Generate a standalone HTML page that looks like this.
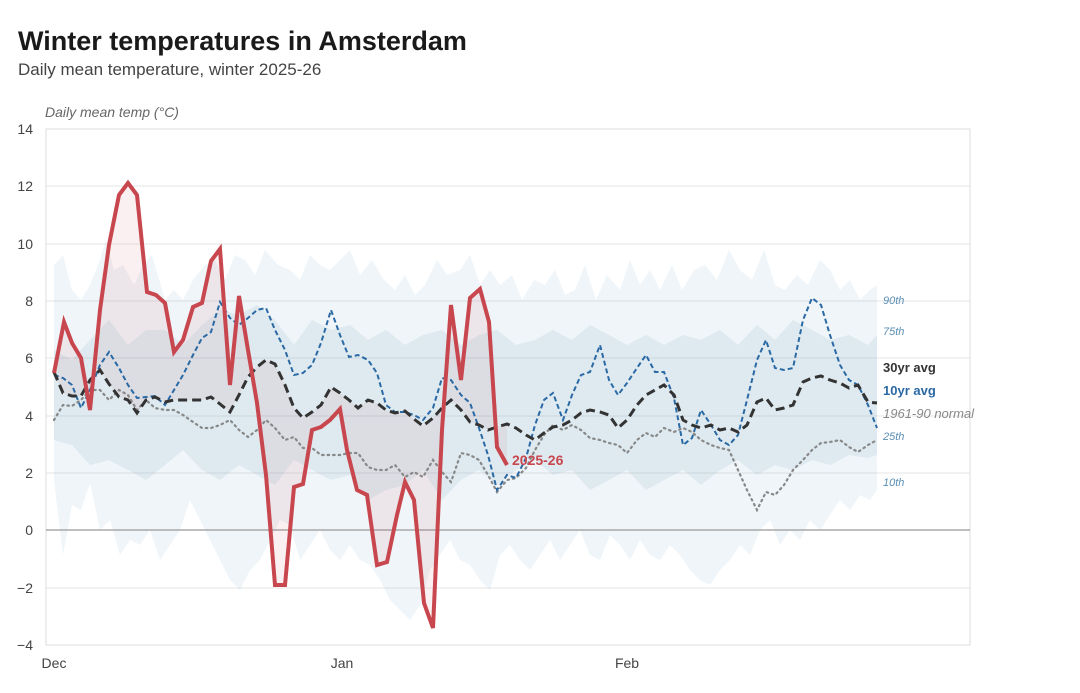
<!DOCTYPE html>
<html><head><meta charset="utf-8"><style>
body{margin:0;background:#fff;font-family:"Liberation Sans",Arial,sans-serif}
svg{display:block}
</style></head><body>
<svg width="1080" height="693" viewBox="0 0 1080 693" xmlns="http://www.w3.org/2000/svg" font-family="Liberation Sans, Arial, sans-serif">
<text x="18" y="50" font-size="27" font-weight="bold" fill="#1a1a1a">Winter temperatures in Amsterdam</text>
<text x="18" y="75" font-size="17" fill="#444">Daily mean temperature, winter 2025-26</text>
<text x="45" y="117" font-size="14" font-style="italic" fill="#666">Daily mean temp (°C)</text>
<!-- grid -->
<g stroke="#e6e6e6" stroke-width="1">
<line x1="46" x2="970" y1="186" y2="186"/><line x1="46" x2="970" y1="244" y2="244"/>
<line x1="46" x2="970" y1="301" y2="301"/><line x1="46" x2="970" y1="358" y2="358"/>
<line x1="46" x2="970" y1="416" y2="416"/><line x1="46" x2="970" y1="473" y2="473"/>
<line x1="46" x2="970" y1="588" y2="588"/>
</g>
<rect x="46" y="129" width="924" height="516" fill="none" stroke="#ddd"/>
<g font-size="14" fill="#444" text-anchor="end">
<text x="33" y="134">14</text><text x="33" y="191">12</text><text x="33" y="249">10</text>
<text x="33" y="306">8</text><text x="33" y="363">6</text><text x="33" y="421">4</text>
<text x="33" y="478">2</text><text x="33" y="535">0</text><text x="33" y="593">−2</text><text x="33" y="650">−4</text>
</g>
<g font-size="14" fill="#444" text-anchor="middle">
<text x="54" y="668">Dec</text><text x="342" y="668">Jan</text><text x="627" y="668">Feb</text>
</g>
<!-- outer band -->
<polygon fill="rgba(80,140,180,0.09)" points="54,265 63,255 72,290 81,300 90,285 100,260 106,240 114,270 123,265 134,285 143,265 152,255 165,300 174,290 183,300 193,280 205,265 215,260 225,280 235,255 245,260 255,275 265,250 278,265 290,270 300,280 310,255 320,265 330,270 340,260 350,250 360,275 372,260 384,280 395,290 405,275 415,295 425,285 437,260 447,275 460,270 470,255 480,285 490,270 500,285 512,275 522,300 534,280 545,285 555,270 565,295 575,290 585,265 596,300 607,275 620,290 630,260 640,285 650,270 660,290 672,265 682,290 694,270 705,265 717,280 729,250 740,270 752,280 764,250 775,285 785,290 797,275 808,285 820,260 830,270 840,290 850,280 860,300 870,290 877,285 877,490 870,500 860,495 850,510 840,500 830,515 820,530 810,520 800,540 790,530 780,545 770,520 760,530 750,555 740,545 730,560 720,570 710,585 700,580 690,570 680,555 670,545 660,560 650,555 640,540 630,560 620,545 610,535 600,560 590,555 580,530 570,545 560,560 550,540 540,555 530,570 520,560 510,545 500,555 490,590 480,580 470,565 460,560 450,540 440,555 430,570 420,605 410,620 400,610 390,600 380,580 370,565 360,560 350,545 340,560 330,550 320,530 310,545 300,560 290,525 280,520 270,540 260,560 250,570 240,590 230,580 220,560 210,540 200,520 190,500 180,530 170,545 160,560 150,530 140,545 130,540 120,555 110,520 100,530 90,483 81,510 72,505 63,555 54,480"/>
<!-- inner band -->
<polygon fill="rgba(80,140,180,0.10)" points="54,350 72,360 90,340 109,320 128,345 146,330 165,330 183,345 202,325 220,310 239,315 257,305 275,320 294,345 312,320 331,330 350,325 368,340 386,330 405,345 423,335 442,330 461,345 479,335 497,330 516,345 535,340 553,330 572,340 590,325 609,335 627,345 646,335 664,345 683,335 701,340 720,330 738,345 757,325 775,340 793,320 812,330 830,340 849,335 868,345 877,335 877,455 868,458 849,455 830,465 812,460 793,470 775,465 757,475 738,460 720,470 701,485 683,470 664,480 646,490 627,470 609,480 590,490 572,470 553,475 535,460 516,470 497,485 479,470 461,480 442,500 423,470 405,485 386,490 368,500 350,475 331,480 312,470 294,460 275,485 257,475 239,465 220,480 202,470 183,450 165,465 146,480 128,470 109,460 90,465 72,445 54,440"/>
<line x1="46" x2="970" y1="530" y2="530" stroke="#999" stroke-width="1.3"/>
<!-- red fill vs avg -->
<polygon fill="rgba(200,70,80,0.08)" points="54,373 64,322 72,343 81,358 90,410 100,310 109,245 119,195 128,183 137,195 147,292 156,295 165,303 174,352 183,340 193,307 202,303 211,261 220,249 230,385 239,296 248,350 257,403 266,475 275,585 285,585 294,487 303,484 312,430 321,427 330,420 340,409 347,450 357,490 367,495 377,565 387,562 397,515 405,482 414,500 424,603 433,628 442,430 451,305 461,380 470,298 480,289 489,322 497,447 507,465 507,424 497,427 488,430 479,425 470,422 461,410 451,400 442,408 433,418 423,426 414,419 405,411 395,413 386,410 377,403 368,400 358,408 349,400 340,393 331,387 321,405 312,412 303,418 294,408 285,385 275,364 266,360 257,367 248,377 239,395 230,412 220,404 211,397 202,400 193,400 183,400 174,400 165,402 155,397 146,400 137,413 128,400 119,397 109,384 100,370 90,380 81,396 72,396 63,393"/>
<!-- 1961-90 -->
<polyline fill="none" stroke="#888" stroke-width="2.2" stroke-dasharray="1.5 4" stroke-linecap="round" points="54,420 63,405 72,406 81,400 90,390 100,390 109,400 119,390 128,395 137,410 146,400 155,408 165,410 174,410 183,415 193,422 202,428 211,428 220,425 230,420 239,430 248,437 257,430 266,420 275,428 285,440 294,437 303,448 312,448 321,455 331,455 340,455 349,453 358,453 368,467 377,470 386,470 395,465 405,477 414,472 423,477 433,460 442,472 451,482 461,453 470,455 479,460 488,475 497,492 507,480 516,478 526,468 535,450 544,435 553,425 563,430 572,425 581,430 590,438 600,440 609,443 618,445 627,453 637,440 646,433 655,437 664,428 674,432 683,428 692,432 701,440 711,445 720,448 729,450 738,470 747,490 757,510 766,492 775,495 784,485 793,470 803,460 812,450 821,443 830,442 840,440 849,447 858,452 868,445 877,440"/>
<!-- 10yr -->
<polyline fill="none" stroke="#2a69a4" stroke-width="2" stroke-dasharray="5 3" points="54,375 63,378 72,385 81,408 90,390 100,365 109,352 119,368 128,385 137,398 146,397 155,396 165,405 174,390 183,375 193,355 202,338 211,332 220,302 230,318 239,325 248,318 257,310 266,308 275,330 285,350 294,375 303,373 312,365 321,343 331,310 340,335 349,357 358,355 368,360 377,373 386,405 395,412 405,412 414,415 423,420 433,408 442,378 451,380 461,395 470,403 479,428 488,455 497,490 507,475 516,478 526,458 535,425 544,400 553,393 563,420 572,395 581,375 590,372 600,345 609,380 618,395 627,383 637,368 646,355 655,372 664,372 674,398 683,445 692,438 701,410 711,425 720,440 729,445 738,435 747,400 757,360 766,340 775,368 784,370 793,368 803,320 812,298 821,305 830,335 840,365 849,380 858,385 868,405 877,428"/>
<!-- 30yr -->
<polyline fill="none" stroke="#333" stroke-width="3" stroke-dasharray="9 5" points="54,372 63,393 72,396 81,396 90,380 100,370 109,384 119,397 128,400 137,413 146,400 155,397 165,402 174,400 183,400 193,400 202,400 211,397 220,404 230,412 239,395 248,377 257,367 266,360 275,364 285,385 294,408 303,418 312,412 321,405 331,387 340,393 349,400 358,408 368,400 377,403 386,410 395,413 405,411 414,419 423,426 433,418 442,408 451,400 461,410 470,422 479,425 488,430 497,427 507,424 516,428 526,435 535,440 544,433 553,427 563,425 572,420 581,413 590,410 600,412 609,415 618,428 627,420 637,405 646,395 655,390 664,385 674,395 683,420 692,425 701,428 711,425 720,430 729,428 738,432 747,425 757,402 766,398 775,410 784,408 793,405 803,382 812,378 821,376 830,380 840,383 849,388 858,385 868,402 877,403"/>
<!-- 2025-26 -->
<polyline fill="none" stroke="#c8474f" stroke-width="4" stroke-linejoin="miter" points="54,373 64,322 72,343 81,358 90,410 100,310 109,245 119,195 128,183 137,195 147,292 156,295 165,303 174,352 183,340 193,307 202,303 211,261 220,249 230,385 239,296 248,350 257,403 266,475 275,585 285,585 294,487 303,484 312,430 321,427 330,420 340,409 347,450 357,490 367,495 377,565 387,562 397,515 405,482 414,500 424,603 433,628 442,430 451,305 461,380 470,298 480,289 489,322 497,447 507,465"/>
<text x="512" y="465" font-size="14" font-weight="bold" fill="#c8474f">2025-26</text>
<g font-size="11" font-style="italic" fill="#5b8fb5">
<text x="883" y="304">90th</text><text x="883" y="335">75th</text>
<text x="883" y="440">25th</text><text x="883" y="486">10th</text>
</g>
<text x="883" y="372" font-size="13" font-weight="bold" fill="#333">30yr avg</text>
<text x="883" y="395" font-size="13" font-weight="bold" fill="#2a69a4">10yr avg</text>
<text x="883" y="418" font-size="13" font-style="italic" fill="#888">1961-90 normal</text>
</svg>
</body></html>
